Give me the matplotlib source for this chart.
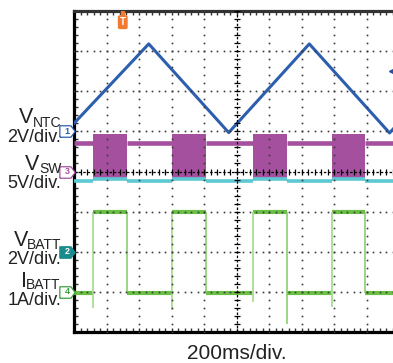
import numpy as np
import matplotlib.pyplot as plt
from matplotlib.patches import Rectangle

plt.rcParams['font.family'] = ['Liberation Sans', 'DejaVu Sans']

W, H = 393, 363  # output size in pixels

# ---- trace data, in scope divisions (x: 0..10, y: 0..8 from bottom) ----
# V_NTC triangle wave
ntc_t = [0.0, 2.30, 4.76, 7.24, 9.71, 10.0]
ntc_v = [5.20, 7.18, 4.97, 7.18, 4.96, 5.22]

# charger-on windows (V_SW bursts and battery current high)
on_start = [0.57, 3.03, 5.52, 7.94]
on_end = [1.62, 4.06, 6.56, 8.95]

# V_SW levels
sw_base = 4.71
sw_top = 4.94
sw_bottom = 3.82

# V_BATT (cyan) levels
vbatt_off = 3.76
vbatt_on = 3.81

# I_BATT levels and the dips at the edges
ibatt_hi = 2.98
ibatt_lo = 0.97
rise_dip = [0.60, 0.55, 0.76, 0.63]
fall_dip = [0.97, 0.97, 0.20, 0.97]

# channel reference markers
ch_names = ['1', '3', '2', '4']
ch_levels = [5.0, 4.0, 2.0, 1.0]

blue = '#2d5fae'
purple = '#a4509f'
cyan = '#5cc8d2'
green = '#6abf45'
green_lt = '#a9dc94'
teal = '#1d8b8e'
orange = '#f07a32'
txt = '#222222'

fig = plt.figure(figsize=(W / 100, H / 100), dpi=100)
ax = fig.add_axes([74 / W, (H - 332) / H, 325 / W, 321 / H])
ax.set_xlim(0, 10)
ax.set_ylim(0, 8)

# frame
for side in ['left', 'bottom']:
    ax.spines[side].set_linewidth(2.3)
    ax.spines[side].set_color('black')
ax.spines['top'].set_linewidth(2.3)
ax.spines['top'].set_color('#333333')
ax.spines['right'].set_visible(False)
ax.set_xticks(np.arange(0, 11, 1))
ax.set_yticks(np.arange(0, 9, 1))
ax.set_xticks(np.arange(0, 10.01, 0.2), minor=True)
ax.set_yticks(np.arange(0, 8.01, 0.2), minor=True)
ax.tick_params(which='both', direction='in', length=3, width=1, color='#333',
               top=True, right=False, labelbottom=False, labelleft=False)

# graticule dots
fx = np.arange(0, 10.001, 0.2)
fy = np.arange(0, 8.001, 0.2)
for gy in [1, 2, 3, 5, 6, 7]:
    ax.plot(fx, np.full_like(fx, gy), ls='none', marker='s', ms=1.2, mew=0,
            color='#3a3a3a', zorder=6)
for gx in [1, 2, 3, 4, 6, 7, 8, 9]:
    ax.plot(np.full_like(fy, gx), fy, ls='none', marker='s', ms=1.2, mew=0,
            color='#3a3a3a', zorder=6)
# centre cross with ticks
ax.axhline(4, ls=(0, (2, 1.5)), color='black', lw=0.9, zorder=6)
ax.axvline(5, ls=(0, (2, 1.5)), color='black', lw=0.9, zorder=6)
ax.plot(fx, np.full_like(fx, 4), ls='none', marker='|', ms=4, mew=0.9,
        color='black', zorder=6)
ax.plot(np.full_like(fy, 5), fy, ls='none', marker='_', ms=4, mew=0.9,
        color='black', zorder=6)

# off intervals between the charger-on windows
sw_edges = [0.0] + [v for pair in zip(on_start, on_end) for v in pair] + [10.0]
off_start = sw_edges[0::2]
off_end = sw_edges[1::2]
n_off = len(off_start)
n_on = len(on_start)

# V_SW: baseline between bursts, filled bursts
ax.hlines(np.full(n_off, sw_base), off_start, off_end, color=purple, lw=3.3, zorder=3)
ax.bar(on_start, sw_top - sw_bottom, width=np.subtract(on_end, on_start),
       bottom=sw_bottom, align='edge', color=purple, lw=0, zorder=3)

# V_BATT (cyan)
ax.hlines(np.full(n_off, vbatt_off), off_start, off_end, color=cyan, lw=2.6, zorder=4)
ax.hlines(np.full(n_on, vbatt_on), on_start, on_end, color=cyan, lw=2.6, zorder=4)
ax.vlines(on_start + on_end, vbatt_off, vbatt_on, color=cyan, lw=1.5, zorder=4)

# I_BATT (green)
ax.hlines(np.full(n_off, ibatt_lo), off_start, off_end, color=green, lw=3.0, zorder=4)
ax.hlines(np.full(n_on, ibatt_hi), on_start, on_end, color=green, lw=3.0, zorder=4)
ax.vlines(on_start, rise_dip, ibatt_hi, color=green_lt, lw=1.3, zorder=4)
ax.vlines(on_end, fall_dip, ibatt_hi, color='#80c966', lw=1.1, zorder=4)

# V_NTC
ax.plot(ntc_t, ntc_v, color=blue, lw=2.2, zorder=5)

# trigger level arrow at right edge
ax.plot(9.8, 6.51, marker='<', ms=6, color='#2b4fa0', clip_on=False, zorder=7)

# trigger position marker at top
ax.add_patch(Rectangle((1.46, 7.6), 0.08, 0.4, color=orange, zorder=7))
ax.text(1.5, 7.72, 'T', color='white', fontsize=7, fontweight='bold',
        ha='center', va='center', zorder=8,
        bbox=dict(boxstyle='round,pad=0.2', fc=orange, ec='none'))

# channel markers on left edge
tag = [(-1, -0.75), (0.45, -0.75), (1, 0), (0.45, 0.75), (-1, 0.75), (-1, -0.75)]
styles = [('white', blue, blue), ('white', purple, purple),
          (teal, teal, 'white'), ('white', '#3aa040', '#3aa040')]
for name, lev, (fc, ec, tc) in zip(ch_names, ch_levels, styles):
    ax.plot(-0.21, lev, marker=tag, ms=11, mfc=fc, mec=ec, mew=0.9,
            clip_on=False, zorder=8)
    ax.text(-0.22, lev, name, color=tc, fontsize=6.5, fontweight='bold',
            ha='center', va='center', clip_on=False, zorder=9)


def ftext(x, y, s, size, **kw):
    fig.text(x / W, 1 - y / H, s, fontsize=size, va='baseline', color=txt, **kw)


# channel labels: big letter, subscript, scale line
ftext(33, 123, 'V', 15.5, ha='right')
ftext(33, 127, 'NTC', 10, ha='left')
ftext(61, 142, '2V/div.', 13, ha='right')

ftext(39, 170, 'V', 15.5, ha='right')
ftext(39, 173, 'SW', 10, ha='left')
ftext(61, 188, '5V/div.', 13, ha='right')

ftext(28, 246, 'V', 15.5, ha='right')
ftext(27, 249, 'BATT', 10, ha='left')
ftext(61, 264, '2V/div.', 13, ha='right')

ftext(26.5, 287, 'I', 15.5, ha='right')
ftext(26, 289, 'BATT', 10, ha='left')
ftext(61, 305, '1A/div.', 13, ha='right')

ftext(237, 359, '200ms/div.', 15, ha='center')

fig.savefig('out.png', dpi=100)
